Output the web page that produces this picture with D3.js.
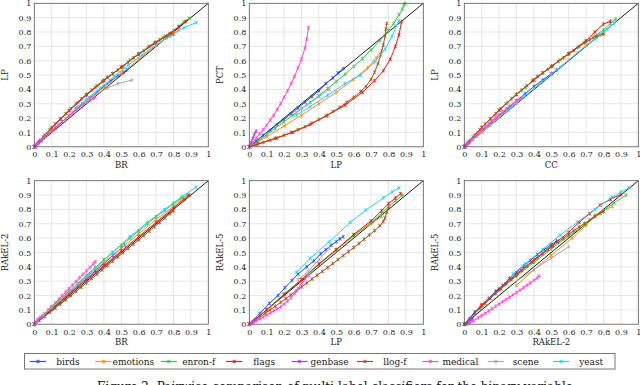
<!DOCTYPE html>
<html><head><meta charset="utf-8">
<script src="https://cdn.jsdelivr.net/npm/d3@7"></script>
<style>
html,body{margin:0;padding:0;background:#fff;}
svg{display:block;font-family:"DejaVu Serif","Liberation Serif",serif;}
</style></head><body>
<svg id="chart" width="640" height="385"></svg>
<script>
// ---------- labels ----------
const seriesNames = ["birds","emotions","enron-f","flags","genbase","llog-f","medical","scene","yeast"];
const seriesColors = ["#1f4dff","#ff8a1f","#2fcc3a","#f01414","#9b3df0","#a6521e","#ff45d2","#a8a8a8","#1fd0ff"];
const tickValues = [0,0.1,0.2,0.3,0.4,0.5,0.6,0.7,0.8,0.9,1];
const tickLabels = ["0","0.1","0.2","0.3","0.4","0.5","0.6","0.7","0.8","0.9","1"];
const xTitles = ["BR","LP","CC","BR","LP","RAkEL-2"];
const yTitles = ["LP","PCT","LP","RAkEL-2","RAkEL-5","RAkEL-5"];
const captionText = "Figure 2: Pairwise comparison of multi-label classifiers for the binary variable";

// ---------- panel 1: BR vs LP ----------
const birds_BR_LP = [[0,0],[0.04,0.045],[0.08,0.09],[0.12,0.13],[0.16,0.175],[0.2,0.215],[0.24,0.26],[0.28,0.3],[0.32,0.34],[0.36,0.38],[0.4,0.42],[0.44,0.46],[0.48,0.495],[0.51,0.52],[0.53,0.535]];
const emotions_BR_LP = [[0,0],[0.1,0.11],[0.2,0.215],[0.3,0.315],[0.4,0.415],[0.5,0.51],[0.6,0.61],[0.7,0.705],[0.76,0.76],[0.8,0.79],[0.83,0.815]];
const enron_BR_LP = [[0,0],[0.05,0.07],[0.1,0.135],[0.15,0.195],[0.2,0.255],[0.25,0.31],[0.3,0.365],[0.35,0.415],[0.4,0.465],[0.45,0.51],[0.5,0.555],[0.55,0.605],[0.6,0.65],[0.65,0.69],[0.7,0.73],[0.75,0.77],[0.8,0.81],[0.83,0.84],[0.86,0.87],[0.89,0.895]];
const flags_BR_LP = [[0,0],[0.1,0.13],[0.2,0.25],[0.3,0.36],[0.4,0.46],[0.5,0.555],[0.6,0.645],[0.7,0.725],[0.78,0.79],[0.83,0.835],[0.87,0.875]];
const genbase_BR_LP = [[0,0],[0.005,0.006],[0.01,0.012],[0.015,0.018],[0.02,0.024],[0.025,0.03],[0.03,0.035]];
const llog_BR_LP = [[0,0],[0.03,0.04],[0.06,0.08],[0.09,0.12],[0.12,0.16],[0.15,0.195],[0.18,0.23],[0.21,0.265],[0.24,0.3],[0.27,0.335],[0.3,0.365],[0.33,0.395],[0.36,0.425],[0.39,0.455],[0.42,0.485],[0.45,0.51],[0.48,0.535],[0.51,0.56],[0.54,0.59],[0.57,0.62],[0.6,0.645],[0.63,0.67],[0.66,0.7],[0.69,0.725],[0.72,0.745],[0.74,0.76],[0.76,0.77],[0.78,0.78],[0.8,0.785]];
const medical_BR_LP = [[0,0],[0.02,0.025],[0.04,0.048],[0.06,0.07],[0.08,0.092],[0.1,0.113],[0.12,0.134],[0.14,0.155],[0.16,0.176],[0.18,0.197],[0.2,0.217],[0.22,0.237],[0.24,0.257],[0.26,0.276],[0.28,0.294],[0.3,0.31],[0.32,0.325],[0.34,0.338],[0.35,0.345]];
const scene_BR_LP = [[0.24,0.27],[0.3,0.32],[0.36,0.37],[0.42,0.41],[0.48,0.44],[0.56,0.465]];
const yeast_BR_LP = [[0.24,0.27],[0.3,0.33],[0.38,0.41],[0.46,0.49],[0.54,0.57],[0.62,0.64],[0.7,0.71],[0.78,0.77],[0.86,0.83],[0.93,0.865]];

// ---------- panel 2: LP vs PCT ----------
const birds_LP_PCT = [[0,0],[0.04,0.04],[0.08,0.08],[0.12,0.115],[0.16,0.155],[0.2,0.19],[0.24,0.23],[0.28,0.27],[0.32,0.31],[0.36,0.35],[0.4,0.39],[0.44,0.44],[0.48,0.48],[0.51,0.515],[0.54,0.545]];
const emotions_LP_PCT = [[0,0],[0.1,0.07],[0.2,0.145],[0.3,0.22],[0.4,0.3],[0.5,0.38],[0.6,0.47],[0.68,0.55],[0.73,0.62],[0.76,0.67]];
const enron_LP_PCT = [[0,0],[0.05,0.04],[0.1,0.085],[0.15,0.13],[0.2,0.175],[0.25,0.22],[0.3,0.265],[0.35,0.31],[0.4,0.355],[0.45,0.405],[0.5,0.455],[0.55,0.505],[0.6,0.56],[0.65,0.615],[0.7,0.675],[0.75,0.74],[0.8,0.81],[0.83,0.86],[0.86,0.92],[0.88,0.96],[0.89,0.99],[0.895,1.0]];
const flags_LP_PCT = [[0,0],[0.05,0.02],[0.15,0.06],[0.25,0.1],[0.35,0.155],[0.45,0.22],[0.55,0.29],[0.65,0.38],[0.72,0.46],[0.77,0.53],[0.81,0.61],[0.84,0.7],[0.86,0.78],[0.875,0.87]];
const genbase_LP_PCT = [[0,0],[0.01,0.03],[0.02,0.06],[0.03,0.09],[0.04,0.11]];
const llog_LP_PCT = [[0,0],[0.04,0.015],[0.08,0.03],[0.12,0.045],[0.16,0.06],[0.2,0.08],[0.24,0.1],[0.28,0.12],[0.32,0.14],[0.36,0.165],[0.4,0.19],[0.44,0.215],[0.48,0.245],[0.52,0.275],[0.56,0.31],[0.6,0.345],[0.64,0.385],[0.67,0.42],[0.7,0.47],[0.72,0.52],[0.74,0.58],[0.755,0.64],[0.77,0.71],[0.78,0.77],[0.785,0.82],[0.79,0.86]];
const medical_LP_PCT = [[0,0],[0.02,0.03],[0.04,0.06],[0.06,0.09],[0.08,0.12],[0.1,0.15],[0.12,0.185],[0.14,0.22],[0.16,0.26],[0.18,0.3],[0.2,0.345],[0.22,0.39],[0.24,0.44],[0.26,0.49],[0.28,0.55],[0.3,0.61],[0.32,0.69],[0.33,0.75],[0.34,0.83]];
const scene_LP_PCT = [[0.27,0.24],[0.33,0.29],[0.4,0.35],[0.46,0.4]];
const yeast_LP_PCT = [[0.27,0.22],[0.35,0.28],[0.45,0.36],[0.55,0.44],[0.64,0.5],[0.72,0.59],[0.78,0.68],[0.82,0.77],[0.86,0.88]];

// ---------- panel 3: CC vs LP ----------
const birds_CC_LP = [[0,0],[0.05,0.055],[0.1,0.11],[0.15,0.16],[0.2,0.215],[0.25,0.265],[0.3,0.32],[0.35,0.37],[0.4,0.42],[0.45,0.465],[0.5,0.51],[0.53,0.535]];
const emotions_CC_LP = [[0,0],[0.1,0.105],[0.2,0.205],[0.3,0.305],[0.4,0.405],[0.5,0.505],[0.6,0.605],[0.7,0.705],[0.76,0.76],[0.8,0.79]];
const enron_CC_LP = [[0,0],[0.05,0.07],[0.1,0.135],[0.15,0.195],[0.2,0.255],[0.25,0.31],[0.3,0.365],[0.35,0.415],[0.4,0.465],[0.45,0.515],[0.5,0.56],[0.55,0.605],[0.6,0.65],[0.65,0.69],[0.7,0.73],[0.75,0.77],[0.8,0.815],[0.84,0.86],[0.87,0.89]];
const flags_CC_LP = [[0,0],[0.1,0.135],[0.2,0.255],[0.3,0.365],[0.4,0.465],[0.5,0.56],[0.6,0.65],[0.7,0.74],[0.75,0.8],[0.8,0.855],[0.84,0.875]];
const genbase_CC_LP = [[0,0],[0.005,0.006],[0.01,0.012],[0.015,0.018],[0.02,0.024],[0.025,0.03],[0.03,0.035]];
const llog_CC_LP = [[0,0],[0.03,0.04],[0.06,0.08],[0.09,0.12],[0.12,0.16],[0.15,0.195],[0.18,0.23],[0.21,0.265],[0.24,0.3],[0.27,0.335],[0.3,0.365],[0.33,0.395],[0.36,0.425],[0.39,0.46],[0.42,0.49],[0.45,0.515],[0.48,0.54],[0.51,0.565],[0.54,0.595],[0.57,0.62],[0.6,0.645],[0.63,0.67],[0.66,0.7],[0.69,0.725],[0.72,0.745],[0.74,0.76],[0.76,0.77],[0.78,0.78],[0.8,0.785]];
const medical_CC_LP = [[0,0],[0.02,0.025],[0.04,0.05],[0.06,0.072],[0.08,0.095],[0.1,0.117],[0.12,0.139],[0.14,0.16],[0.16,0.182],[0.18,0.203],[0.2,0.224],[0.22,0.244],[0.24,0.264],[0.26,0.283],[0.28,0.3],[0.3,0.318],[0.32,0.333],[0.33,0.34]];
const scene_CC_LP = [[0.05,0.05],[0.1,0.1],[0.15,0.15],[0.2,0.205],[0.25,0.255],[0.3,0.305]];
const yeast_CC_LP = [[0.25,0.255],[0.35,0.355],[0.45,0.455],[0.55,0.555],[0.65,0.655],[0.75,0.75],[0.82,0.82],[0.86,0.86]];

// ---------- panel 4: BR vs RAkEL-2 ----------
const birds_BR_R2 = [[0,0],[0.05,0.053],[0.1,0.106],[0.15,0.159],[0.2,0.212],[0.25,0.265],[0.3,0.318],[0.35,0.371],[0.4,0.424],[0.45,0.477],[0.5,0.53],[0.52,0.55]];
const emotions_BR_R2 = [[0,0],[0.1,0.11],[0.2,0.22],[0.3,0.33],[0.4,0.43],[0.5,0.53],[0.6,0.63],[0.7,0.73],[0.8,0.82],[0.84,0.86]];
const enron_BR_R2 = [[0,0],[0.05,0.06],[0.1,0.12],[0.15,0.175],[0.2,0.23],[0.25,0.285],[0.3,0.34],[0.35,0.395],[0.4,0.45],[0.45,0.5],[0.5,0.55],[0.55,0.6],[0.6,0.65],[0.65,0.7],[0.7,0.75],[0.75,0.795],[0.8,0.84],[0.85,0.88],[0.88,0.9]];
const flags_BR_R2 = [[0,0],[0.1,0.105],[0.2,0.21],[0.3,0.31],[0.4,0.41],[0.5,0.51],[0.6,0.61],[0.7,0.71],[0.8,0.81],[0.86,0.87],[0.89,0.9]];
const genbase_BR_R2 = [[0,0],[0.01,0.015],[0.02,0.03],[0.03,0.04],[0.04,0.045]];
const llog_BR_R2 = [[0,0],[0.03,0.027],[0.06,0.055],[0.09,0.083],[0.12,0.111],[0.15,0.14],[0.18,0.169],[0.21,0.198],[0.24,0.228],[0.27,0.258],[0.3,0.288],[0.33,0.318],[0.36,0.348],[0.39,0.378],[0.42,0.408],[0.45,0.438],[0.48,0.468],[0.51,0.498],[0.54,0.528],[0.57,0.558],[0.6,0.588],[0.63,0.618],[0.66,0.648],[0.69,0.678],[0.72,0.708],[0.75,0.739],[0.78,0.77],[0.8,0.79]];
const medical_BR_R2 = [[0,0],[0.02,0.025],[0.04,0.05],[0.06,0.074],[0.08,0.099],[0.1,0.124],[0.12,0.149],[0.14,0.174],[0.16,0.199],[0.18,0.224],[0.2,0.249],[0.22,0.273],[0.24,0.298],[0.26,0.323],[0.28,0.347],[0.3,0.372],[0.32,0.397],[0.34,0.421],[0.35,0.435]];
const scene_BR_R2 = [[0.05,0.06],[0.1,0.115],[0.15,0.17],[0.2,0.225],[0.25,0.28],[0.3,0.33]];
const yeast_BR_R2 = [[0.25,0.28],[0.35,0.39],[0.45,0.5],[0.55,0.61],[0.65,0.71],[0.75,0.8],[0.85,0.89],[0.93,0.955]];

// ---------- panel 5: LP vs RAkEL-5 ----------
const birds_LP_R5 = [[0,0],[0.06,0.075],[0.115,0.145],[0.165,0.2],[0.205,0.255],[0.245,0.305],[0.28,0.35],[0.33,0.4],[0.37,0.44],[0.41,0.49],[0.44,0.52],[0.47,0.55],[0.5,0.575],[0.52,0.595],[0.54,0.61]];
const emotions_LP_R5 = [[0,0],[0.1,0.1],[0.2,0.21],[0.3,0.31],[0.4,0.42],[0.5,0.52],[0.6,0.62],[0.7,0.7],[0.76,0.75]];
const enron_LP_R5 = [[0,0],[0.1,0.1],[0.2,0.21],[0.3,0.31],[0.4,0.415],[0.5,0.515],[0.6,0.615],[0.7,0.71],[0.76,0.77],[0.8,0.82],[0.84,0.86],[0.88,0.9]];
const flags_LP_R5 = [[0,0],[0.1,0.1],[0.2,0.205],[0.3,0.31],[0.4,0.42],[0.5,0.52],[0.6,0.625],[0.7,0.72],[0.76,0.79],[0.8,0.84],[0.84,0.88],[0.87,0.91]];
const genbase_LP_R5 = [[0,0],[0.01,0.008],[0.02,0.016],[0.03,0.025],[0.04,0.033]];
const llog_LP_R5 = [[0,0],[0.03,0.025],[0.06,0.05],[0.09,0.075],[0.12,0.1],[0.15,0.125],[0.18,0.152],[0.21,0.178],[0.24,0.205],[0.27,0.232],[0.3,0.26],[0.33,0.287],[0.36,0.314],[0.39,0.341],[0.42,0.368],[0.45,0.395],[0.48,0.422],[0.51,0.45],[0.54,0.478],[0.57,0.506],[0.6,0.534],[0.63,0.562],[0.66,0.592],[0.69,0.622],[0.72,0.652],[0.75,0.685],[0.77,0.715],[0.78,0.74],[0.79,0.78],[0.8,0.81]];
const medical_LP_R5 = [[0,0],[0.02,0.012],[0.04,0.024],[0.06,0.037],[0.08,0.05],[0.1,0.065],[0.12,0.078],[0.14,0.092],[0.16,0.106],[0.18,0.12],[0.2,0.14],[0.22,0.162],[0.24,0.186],[0.26,0.214],[0.28,0.248],[0.3,0.283],[0.32,0.315],[0.34,0.34]];
const scene_LP_R5 = [[0.28,0.31],[0.34,0.37],[0.4,0.45],[0.46,0.53]];
const yeast_LP_R5 = [[0.27,0.36],[0.35,0.46],[0.46,0.575],[0.58,0.71],[0.67,0.795],[0.77,0.88],[0.82,0.92],[0.86,0.95]];

// ---------- panel 6: RAkEL-2 vs RAkEL-5 ----------
const birds_R2_R5 = [[0,0],[0.06,0.085],[0.1,0.135],[0.14,0.18],[0.18,0.23],[0.22,0.27],[0.26,0.32],[0.3,0.36],[0.34,0.405],[0.38,0.445],[0.42,0.485],[0.46,0.52],[0.5,0.555],[0.53,0.58]];
const emotions_R2_R5 = [[0.3,0.27],[0.4,0.38],[0.5,0.48],[0.62,0.6],[0.7,0.69],[0.75,0.76],[0.8,0.79],[0.85,0.82]];
const enron_R2_R5 = [[0,0],[0.1,0.125],[0.2,0.235],[0.3,0.335],[0.4,0.43],[0.5,0.525],[0.6,0.615],[0.7,0.7],[0.8,0.79],[0.86,0.845],[0.93,0.9]];
const flags_R2_R5 = [[0,0],[0.1,0.13],[0.2,0.245],[0.3,0.35],[0.4,0.45],[0.5,0.545],[0.6,0.64],[0.66,0.71],[0.72,0.77],[0.78,0.83],[0.84,0.87],[0.9,0.905]];
const genbase_R2_R5 = [[0.01,0],[0.02,0.01],[0.03,0.02],[0.04,0.03],[0.05,0.04]];
const llog_R2_R5 = [[0,0],[0.03,0.038],[0.06,0.075],[0.09,0.11],[0.12,0.145],[0.15,0.18],[0.18,0.214],[0.21,0.247],[0.24,0.28],[0.27,0.311],[0.3,0.342],[0.33,0.373],[0.36,0.403],[0.39,0.432],[0.42,0.461],[0.45,0.49],[0.48,0.518],[0.51,0.546],[0.54,0.573],[0.57,0.6],[0.6,0.626],[0.63,0.652],[0.66,0.677],[0.69,0.702],[0.72,0.726],[0.75,0.75],[0.78,0.772],[0.8,0.785]];
const medical_R2_R5 = [[0.03,0.01],[0.05,0.02],[0.08,0.045],[0.1,0.06],[0.12,0.076],[0.14,0.092],[0.16,0.108],[0.18,0.124],[0.2,0.14],[0.22,0.156],[0.24,0.172],[0.26,0.188],[0.28,0.204],[0.3,0.22],[0.32,0.237],[0.34,0.254],[0.36,0.271],[0.38,0.288],[0.4,0.306],[0.42,0.323],[0.43,0.335]];
const scene_R2_R5 = [[0.3,0.3],[0.4,0.38],[0.5,0.46],[0.6,0.54]];
const yeast_R2_R5 = [[0.28,0.35],[0.35,0.42],[0.45,0.52],[0.55,0.62],[0.65,0.71],[0.75,0.8],[0.85,0.885],[0.9,0.92],[0.945,0.95]];

const panels = [
  [birds_BR_LP, emotions_BR_LP, enron_BR_LP, flags_BR_LP, genbase_BR_LP, llog_BR_LP, medical_BR_LP, scene_BR_LP, yeast_BR_LP],
  [birds_LP_PCT, emotions_LP_PCT, enron_LP_PCT, flags_LP_PCT, genbase_LP_PCT, llog_LP_PCT, medical_LP_PCT, scene_LP_PCT, yeast_LP_PCT],
  [birds_CC_LP, emotions_CC_LP, enron_CC_LP, flags_CC_LP, genbase_CC_LP, llog_CC_LP, medical_CC_LP, scene_CC_LP, yeast_CC_LP],
  [birds_BR_R2, emotions_BR_R2, enron_BR_R2, flags_BR_R2, genbase_BR_R2, llog_BR_R2, medical_BR_R2, scene_BR_R2, yeast_BR_R2],
  [birds_LP_R5, emotions_LP_R5, enron_LP_R5, flags_LP_R5, genbase_LP_R5, llog_LP_R5, medical_LP_R5, scene_LP_R5, yeast_LP_R5],
  [birds_R2_R5, emotions_R2_R5, enron_R2_R5, flags_R2_R5, genbase_R2_R5, llog_R2_R5, medical_R2_R5, scene_R2_R5, yeast_R2_R5]
];

// ---------- drawing ----------
const svg = d3.select("#chart");
const colLeft = [34.3, 249.3, 464.3];
const rowTop = [3.3, 180.7];
const W = 174, H = 143.5;
const fontSize = 8;

function markerPath(x, y) {
  const s = 1.6;
  return `M${x-s},${y-s}L${x+s},${y+s}M${x-s},${y+s}L${x+s},${y-s}M${x},${y-s*1.2}L${x},${y+s*1.2}`;
}

panels.forEach((series, pi) => {
  const c = pi % 3, r = Math.floor(pi / 3);
  const g = svg.append("g").attr("transform", `translate(${colLeft[c]},${rowTop[r]})`);
  const x = d3.scaleLinear().domain([0, 1]).range([0, W]);
  const y = d3.scaleLinear().domain([0, 1]).range([H, 0]);

  // grid
  g.append("g").selectAll("line").data(tickValues.slice(1, -1)).join("line")
    .attr("x1", d => x(d)).attr("x2", d => x(d)).attr("y1", 0).attr("y2", H)
    .attr("stroke", "#dcdcdc").attr("stroke-width", 0.7);
  g.append("g").selectAll("line").data(tickValues.slice(1, -1)).join("line")
    .attr("y1", d => y(d)).attr("y2", d => y(d)).attr("x1", 0).attr("x2", W)
    .attr("stroke", "#dcdcdc").attr("stroke-width", 0.7);

  // axes
  const xa = g.append("g").attr("transform", `translate(0,${H})`)
    .call(d3.axisBottom(x).tickValues(tickValues).tickFormat((d, i) => tickLabels[i]).tickSize(0).tickPadding(5));
  const ya = g.append("g")
    .call(d3.axisLeft(y).tickValues(tickValues).tickFormat((d, i) => tickLabels[i]).tickSize(0).tickPadding(3));
  [xa, ya].forEach(a => {
    a.select(".domain").remove();
    a.selectAll("text").attr("font-size", fontSize).attr("fill", "#222")
      .attr("font-family", "'DejaVu Serif',serif");
  });

  // diagonal
  g.append("line").attr("x1", x(0)).attr("y1", y(0)).attr("x2", x(1)).attr("y2", y(1))
    .attr("stroke", "#000").attr("stroke-width", 0.9);

  const line = d3.line().x(d => x(d[0])).y(d => y(d[1]));
  series.forEach((pts, si) => {
    const col = seriesColors[si];
    g.append("path").attr("d", line(pts)).attr("fill", "none")
      .attr("stroke", col).attr("stroke-width", 1);
    g.append("path").attr("d", pts.map(p => markerPath(x(p[0]), y(p[1]))).join(""))
      .attr("fill", "none").attr("stroke", col).attr("stroke-width", 0.75);
  });

  // frame
  g.append("rect").attr("x", 0).attr("y", 0).attr("width", W).attr("height", H)
    .attr("fill", "none").attr("stroke", "#555").attr("stroke-width", 0.8);

  // titles
  g.append("text").attr("x", W / 2).attr("y", H + 21).attr("text-anchor", "middle")
    .attr("font-size", 8.5).attr("fill", "#222").text(xTitles[pi]);
  g.append("text").attr("transform", `translate(${-26},${H / 2}) rotate(-90)`)
    .attr("text-anchor", "middle").attr("font-size", 8.5).attr("fill", "#222").text(yTitles[pi]);
});

// legend
const lg = svg.append("g");
lg.append("rect").attr("x", 24.5).attr("y", 353.5).attr("width", 590.5).attr("height", 15.5)
  .attr("fill", "#fff").attr("stroke", "#777").attr("stroke-width", 1);
const legendStep = 65.4;
seriesNames.forEach((name, i) => {
  const x0 = 30 + i * legendStep;
  const ly = 361.5;
  lg.append("line").attr("x1", x0).attr("x2", x0 + 16).attr("y1", ly).attr("y2", ly)
    .attr("stroke", seriesColors[i]).attr("stroke-width", 1.2);
  lg.append("path").attr("d", markerPath(x0 + 8, ly)).attr("stroke", seriesColors[i])
    .attr("stroke-width", 0.8).attr("fill", "none");
  lg.append("text").attr("x", x0 + 38).attr("y", ly + 3).attr("text-anchor", "middle")
    .attr("font-size", 9).attr("fill", "#222").text(name);
});

// caption (partly cut by the bottom edge, as in the source)
svg.append("text").attr("x", 335).attr("y", 391).attr("text-anchor", "middle")
  .attr("font-size", 12).attr("fill", "#111").text(captionText);
</script>
</body></html>
